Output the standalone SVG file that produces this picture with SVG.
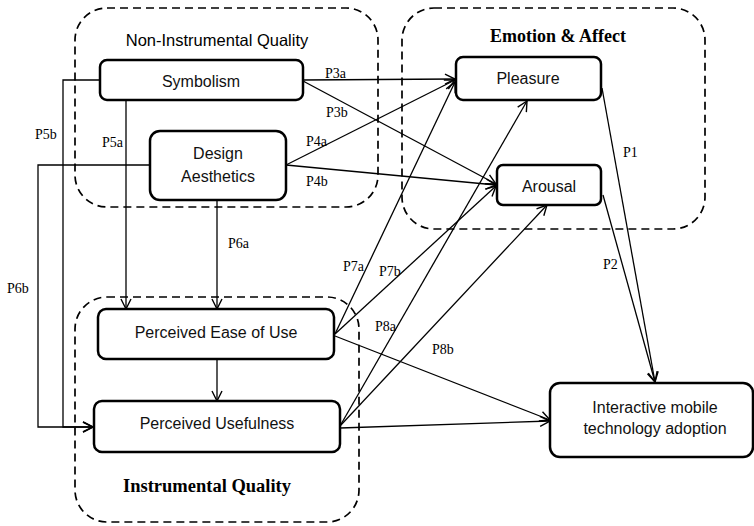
<svg xmlns="http://www.w3.org/2000/svg" width="754" height="526" viewBox="0 0 754 526">
<style>
.grp{fill:none;stroke:#000;stroke-width:1.7;stroke-dasharray:8 5}
.node{fill:#fff;stroke:#000;stroke-width:2.5}
.nt{font-family:"Liberation Sans",Arial,sans-serif;font-size:16px;fill:#111;text-anchor:middle}
.lbl{font-family:"Liberation Serif","Times New Roman",serif;font-size:14px;fill:#000}
.gt{font-family:"Liberation Serif","Times New Roman",serif;font-weight:bold;fill:#000;text-anchor:middle}
.c{fill:none;stroke:#000;stroke-width:1.3}
.a{marker-end:url(#arr)}
</style>
<defs>
<marker id="arr" markerUnits="userSpaceOnUse" markerWidth="14" markerHeight="14" refX="11" refY="6" orient="auto">
<path d="M1,1 L11,6 L1,11" fill="none" stroke="#000" stroke-width="1.4"/>
</marker>
</defs>
<g id="groups">
<rect class="grp" x="75" y="8" width="303" height="199" rx="32"/>
<text x="217" y="46" font-family="Liberation Sans,Arial,sans-serif" font-size="16.5" text-anchor="middle" fill="#000">Non-Instrumental Quality</text>
<rect class="grp" x="402" y="8" width="303" height="221" rx="32"/>
<text class="gt" x="558" y="42" font-size="18">Emotion &amp; Affect</text>
<rect class="grp" x="75" y="297" width="284" height="225" rx="32"/>
<text class="gt" x="207" y="492" font-size="18.5">Instrumental Quality</text>
</g>
<g id="connectors">
<path class="c a" d="M303,80 L455,79"/>
<path class="c a" d="M303,81 L496,184"/>
<path class="c a" d="M286,165 L455,80"/>
<path class="c a" d="M286,165 L496,185"/>
<path class="c a" d="M100,80 H63 V427 H93"/>
<path class="c a" d="M150,165 H38 V427 H93"/>
<path class="c a" d="M126,100 V309"/>
<path class="c a" d="M217,200 V309"/>
<path class="c a" d="M217,359 V401"/>
<path class="c a" d="M335,334 L455,82"/>
<path class="c a" d="M335,334 L496,186"/>
<path class="c a" d="M340,426 L527,101"/>
<path class="c a" d="M340,426 L547,205"/>
<path class="c a" d="M335,336 L550,420"/>
<path class="c a" d="M340,428 L550,421"/>
<path class="c a" d="M602,88 L655,382"/>
<path class="c a" d="M603,195 L655,382"/>
<text class="lbl" x="325" y="78">P3a</text>
<text class="lbl" x="326" y="117">P3b</text>
<text class="lbl" x="306" y="146">P4a</text>
<text class="lbl" x="306" y="186">P4b</text>
<text class="lbl" x="35" y="139">P5b</text>
<text class="lbl" x="102" y="147">P5a</text>
<text class="lbl" x="228" y="248">P6a</text>
<text class="lbl" x="7" y="293">P6b</text>
<text class="lbl" x="343" y="271">P7a</text>
<text class="lbl" x="379" y="276">P7b</text>
<text class="lbl" x="375" y="331">P8a</text>
<text class="lbl" x="432" y="354">P8b</text>
<text class="lbl" x="623" y="157">P1</text>
<text class="lbl" x="603" y="269">P2</text>
</g>
<g id="symbolism">
<rect class="node" x="100" y="60" width="203" height="40" rx="7"/>
<text class="nt" x="201" y="87">Symbolism</text>
</g>
<g id="design-aesthetics">
<rect class="node" x="150" y="131" width="136" height="69" rx="10"/>
<text class="nt" x="218" y="159">Design</text>
<text class="nt" x="218" y="182">Aesthetics</text>
</g>
<g id="pleasure">
<rect class="node" x="456" y="57" width="145" height="43" rx="7"/>
<text class="nt" x="528" y="84">Pleasure</text>
</g>
<g id="arousal">
<rect class="node" x="497" y="165" width="104" height="40" rx="6"/>
<text class="nt" x="549" y="192">Arousal</text>
</g>
<g id="ease-of-use">
<rect class="node" x="98" y="309" width="236" height="50" rx="8"/>
<text class="nt" x="216" y="338">Perceived Ease of Use</text>
</g>
<g id="usefulness">
<rect class="node" x="94" y="401" width="246" height="51" rx="8"/>
<text class="nt" x="217" y="429">Perceived Usefulness</text>
</g>
<g id="adoption">
<rect class="node" x="550" y="383" width="203" height="74" rx="10"/>
<text class="nt" x="655" y="413">Interactive mobile</text>
<text class="nt" x="655" y="434">technology adoption</text>
</g>
</svg>
